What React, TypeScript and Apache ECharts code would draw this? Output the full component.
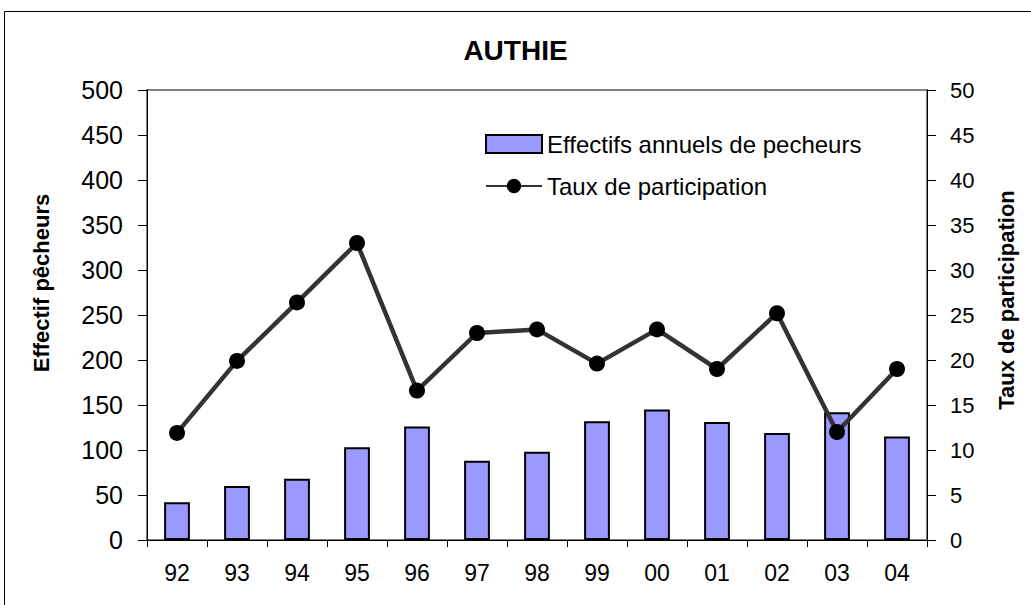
import React, { useEffect, useRef } from "react";
import * as echarts from "echarts";

const categories = ["92", "93", "94", "95", "96", "97", "98", "99", "00", "01", "02", "03", "04"];
const effectifs = [42, 60, 68, 103, 126, 88, 98, 132, 145, 131, 119, 142, 115];
const taux = [11.9, 19.9, 26.4, 33.0, 16.6, 23.0, 23.4, 19.6, 23.4, 19.0, 25.2, 12.0, 19.0];

export default function App() {
  const ref = useRef<HTMLDivElement>(null);
  useEffect(() => {
    const chart = echarts.init(ref.current!, null, { renderer: "svg" });
    const font = "Liberation Sans, Arial, sans-serif";
    chart.setOption({
      animation: false,
      backgroundColor: "#fff",
      textStyle: { fontFamily: font },
      title: {
        text: "AUTHIE",
        left: "center",
        top: 31,
        textStyle: { fontFamily: font, fontSize: 28, fontWeight: "bold", color: "#000" },
      },
      graphic: [
        { type: "rect", shape: { x: 4.5, y: 11.5, width: 1040, height: 700 }, style: { fill: "none", stroke: "#000", lineWidth: 1 }, silent: true },
        { type: "rect", shape: { x: 147, y: 90, width: 780, height: 450 }, style: { fill: "none", stroke: "#808080", lineWidth: 2 }, silent: true, z: -1 },
        {
          type: "text",
          x: 41,
          y: 283,
          rotation: Math.PI / 2,
          style: { text: "Effectif pêcheurs", fontFamily: font, fontSize: 22, fontWeight: "bold", fill: "#000", align: "center", verticalAlign: "middle" },
        },
        {
          type: "text",
          x: 1006,
          y: 300,
          rotation: Math.PI / 2,
          style: { text: "Taux de participation", fontFamily: font, fontSize: 22, fontWeight: "bold", fill: "#000", align: "center", verticalAlign: "middle" },
        },
      ],
      legend: {
        orient: "vertical",
        left: 480,
        top: 127,
        itemWidth: 56,
        itemHeight: 18,
        itemGap: 18,
        textStyle: { fontFamily: font, fontSize: 24, color: "#000" },
        data: [
          { name: "Effectifs annuels de pecheurs", icon: "rect" },
          { name: "Taux de participation" },
        ],
      },
      grid: { left: 147, right: 104, top: 90, bottom: 65 },
      xAxis: {
        type: "category",
        data: categories,
        axisLine: { lineStyle: { color: "#000", width: 1 } },
        axisTick: { show: true, alignWithLabel: false, length: 7, lineStyle: { color: "#000" } },
        axisLabel: { fontFamily: font, fontSize: 23, color: "#000", margin: 21 },
      },
      yAxis: [
        {
          type: "value",
          min: 0,
          max: 500,
          interval: 50,
          axisLine: { show: true, lineStyle: { color: "#000" } },
          axisTick: { show: true, length: 9, lineStyle: { color: "#000" } },
          axisLabel: { fontFamily: font, fontSize: 25, color: "#000", margin: 24 },
          splitLine: { show: false },
        },
        {
          type: "value",
          min: 0,
          max: 50,
          interval: 5,
          axisLine: { show: true, lineStyle: { color: "#000" } },
          axisTick: { show: true, length: 9, lineStyle: { color: "#000" } },
          axisLabel: { fontFamily: font, fontSize: 22, color: "#000", margin: 23 },
          splitLine: { show: false },
        },
      ],
      series: [
        {
          name: "Effectifs annuels de pecheurs",
          type: "bar",
          yAxisIndex: 0,
          data: effectifs,
          barWidth: "43%",
          itemStyle: { color: "#9999FF", borderColor: "#000", borderWidth: 2 },
        },
        {
          name: "Taux de participation",
          type: "line",
          yAxisIndex: 1,
          data: taux,
          symbol: "circle",
          symbolSize: 16,
          lineStyle: { color: "#333333", width: 4.5 },
          itemStyle: { color: "#000" },
          z: 3,
        },
      ],
    });
    return () => chart.dispose();
  }, []);
  return <div ref={ref} style={{ position: "fixed", left: 0, top: 0, width: 1031, height: 605 }} />;
}
